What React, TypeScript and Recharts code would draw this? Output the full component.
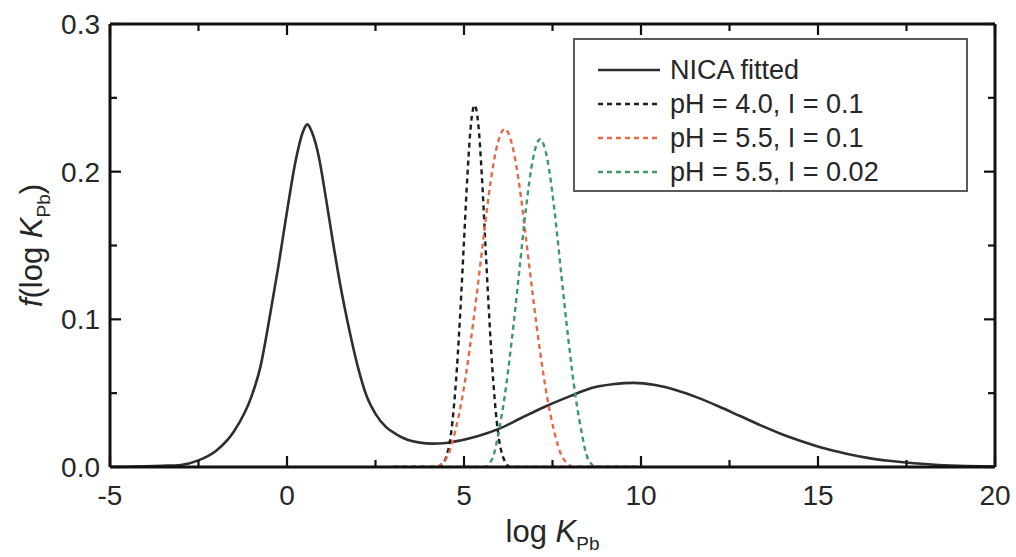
import React from 'react'
import { Label, Legend, Line, LineChart, XAxis, YAxis } from 'recharts'

// NICA fitted affinity distribution
const nicaX = [
  -5, -4.5, -4, -3.5, -3, -2.5, -2, -1.5, -1, -0.75, -0.5, -0.25, 0, 0.25, 0.45, 0.575, 0.7, 0.9, 1.1, 1.3,
  1.5, 1.75, 2, 2.25, 2.5, 2.8, 3.1, 3.4, 3.75, 4.1, 4.5, 4.9, 5.4, 6, 6.6, 7.3, 8, 8.6, 9.2, 9.8, 10.4, 11,
  11.6, 12.2, 12.8, 13.4, 14, 14.6, 15.2, 15.8, 16.4, 17, 17.7, 18.4, 19.2, 20,
]
const nicaY = [
  0, 0.0002, 0.0004, 0.0008, 0.0014, 0.0045, 0.011, 0.024, 0.048, 0.068, 0.1, 0.135, 0.173, 0.208, 0.227,
  0.232, 0.227, 0.21, 0.182, 0.152, 0.124, 0.094, 0.068, 0.048, 0.036, 0.027, 0.022, 0.0185, 0.0165, 0.0158,
  0.0163, 0.018, 0.021, 0.026, 0.033, 0.041, 0.048, 0.0535, 0.056, 0.057, 0.0555, 0.052, 0.047, 0.041, 0.0345,
  0.028, 0.022, 0.017, 0.0125, 0.009, 0.0062, 0.0042, 0.0025, 0.0014, 0.0007, 0.0003,
]

// pH 4.0, I 0.1
const ph40X = [3, 4.3, 4.4, 4.5, 4.6, 4.7, 4.8, 4.9, 5, 5.1, 5.2, 5.3, 5.4, 5.5, 5.6, 5.7, 5.8, 5.9, 6, 6.1, 6.2, 6.3, 10]
const ph40Y = [0, 0, 0.002, 0.007, 0.017, 0.037, 0.067, 0.107, 0.153, 0.199, 0.233, 0.245, 0.233, 0.199, 0.153, 0.107, 0.067, 0.037, 0.017, 0.007, 0.002, 0, 0]

// pH 5.5, I 0.1
const ph55X = [3, 4.25, 4.35, 4.55, 4.75, 4.95, 5.15, 5.35, 5.55, 5.75, 5.95, 6.15, 6.35, 6.55, 6.75, 6.95, 7.15, 7.35, 7.55, 7.75, 7.95, 8.05, 10]
const ph55Y = [0, 0, 0.002, 0.008, 0.024, 0.047, 0.078, 0.115, 0.155, 0.193, 0.219, 0.229, 0.219, 0.193, 0.155, 0.115, 0.078, 0.047, 0.024, 0.008, 0.002, 0, 0]

// pH 5.5, I 0.02
const ph55lowX = [3, 5.6, 5.7, 5.85, 5.95, 6.15, 6.35, 6.55, 6.75, 6.95, 7.15, 7.35, 7.55, 7.75, 7.95, 8.15, 8.35, 8.45, 8.6, 8.7, 10]
const ph55lowY = [0, 0, 0.002, 0.009, 0.02, 0.048, 0.086, 0.13, 0.175, 0.209, 0.222, 0.209, 0.175, 0.13, 0.086, 0.048, 0.02, 0.009, 0.002, 0, 0]

const xTicks = [-5, -2.5, 0, 2.5, 5, 7.5, 10, 12.5, 15, 17.5, 20]
const yTicks = [0, 0.05, 0.1, 0.15, 0.2, 0.25, 0.3]

const FONT = '"Liberation Sans", Arial, Helvetica, sans-serif'
const INK = '#111'
const TEXT = '#262626'

const toPoints = (xs: number[], ys: number[]) => xs.map((x, i) => ({ x, y: ys[i] }))

const SERIES = [
  { name: 'NICA fitted', data: toPoints(nicaX, nicaY), color: '#2e2e2e', dash: undefined, width: 2.6 },
  { name: 'pH = 4.0, I = 0.1', data: toPoints(ph40X, ph40Y), color: '#1c1c1c', dash: '5 4', width: 2.4 },
  { name: 'pH = 5.5, I = 0.1', data: toPoints(ph55X, ph55Y), color: '#e3694d', dash: '5 4', width: 2.4 },
  { name: 'pH = 5.5, I = 0.02', data: toPoints(ph55lowX, ph55lowY), color: '#3e9868', dash: '5 4', width: 2.4 },
]

const isMajorX = (v: number) => Math.abs(v % 5) < 1e-9
const isMajorY = (v: number) => Math.abs(Math.round(v * 100) % 10) < 1e-9

function BottomTick(props: any) {
  const { x, y, payload } = props
  const major = isMajorX(payload.value)
  return (
    <g>
      <line x1={x} x2={x} y1={y} y2={y - (major ? 11 : 7)} stroke={INK} strokeWidth={2.2} />
      {major && (
        <text x={x} y={y + 38} textAnchor="middle" fontSize={28} fontFamily={FONT} fill={TEXT}>
          {payload.value}
        </text>
      )}
    </g>
  )
}

function TopTick(props: any) {
  const { x, y, payload } = props
  const major = isMajorX(payload.value)
  return <line x1={x} x2={x} y1={y} y2={y + (major ? 11 : 7)} stroke={INK} strokeWidth={2.2} />
}

function LeftTick(props: any) {
  const { x, y, payload } = props
  const major = isMajorY(payload.value)
  return (
    <g>
      <line x1={x} x2={x + (major ? 11 : 7)} y1={y} y2={y} stroke={INK} strokeWidth={2.2} />
      {major && (
        <text x={x - 10} y={y + 10} textAnchor="end" fontSize={28} fontFamily={FONT} fill={TEXT}>
          {payload.value.toFixed(1)}
        </text>
      )}
    </g>
  )
}

function RightTick(props: any) {
  const { x, y, payload } = props
  const major = isMajorY(payload.value)
  return <line x1={x} x2={x - (major ? 11 : 7)} y1={y} y2={y} stroke={INK} strokeWidth={2.2} />
}

function XTitle(props: any) {
  const vb = props.viewBox
  return (
    <text x={vb.x + vb.width / 2} y={vb.y + 75} textAnchor="middle" fontSize={31} fontFamily={FONT} fill={TEXT}>
      <tspan>log </tspan>
      <tspan fontStyle="italic">K</tspan>
      <tspan fontSize={19} dy={8}>Pb</tspan>
    </text>
  )
}

function YTitle(props: any) {
  const vb = props.viewBox
  const cx = 42
  const cy = vb.y + vb.height / 2
  return (
    <text x={cx} y={cy} transform={`rotate(-90 ${cx} ${cy})`} textAnchor="middle" fontSize={31} fontFamily={FONT} fill={TEXT}>
      <tspan fontStyle="italic">f</tspan>
      <tspan>(log </tspan>
      <tspan fontStyle="italic">K</tspan>
      <tspan fontSize={19} dy={8}>Pb</tspan>
      <tspan dy={-8}>)</tspan>
    </text>
  )
}

function LegendBox() {
  return (
    <div
      style={{
        width: 395,
        height: 154,
        boxSizing: 'border-box',
        border: '2px solid #5a5a5a',
        background: '#fff',
        paddingTop: 13,
        fontFamily: FONT,
        fontSize: 27,
        color: TEXT,
      }}
    >
      {SERIES.map((s) => (
        <div key={s.name} style={{ display: 'flex', alignItems: 'center', height: 34 }}>
          <svg width={95} height={34} style={{ flex: 'none' }}>
            <line x1={23} x2={85} y1={17} y2={17} stroke={s.color} strokeWidth={s.width} strokeDasharray={s.dash} />
          </svg>
          <span style={{ whiteSpace: 'nowrap', lineHeight: '34px' }}>{s.name}</span>
        </div>
      ))}
    </div>
  )
}

export default function App() {
  return (
    <div style={{ position: 'absolute', left: 0, top: 0, background: '#fff' }}>
      <LineChart width={1016} height={557} margin={{ top: 23, right: 20, bottom: 30, left: 40 }}>
        <XAxis
          dataKey="x"
          type="number"
          domain={[-5, 20]}
          allowDataOverflow
          ticks={xTicks}
          interval={0}
          height={60}
          tickSize={0}
          tickMargin={0}
          tickLine={false}
          tick={<BottomTick />}
          axisLine={{ stroke: INK, strokeWidth: 3 }}
        >
          <Label content={<XTitle />} />
        </XAxis>
        <XAxis
          xAxisId="top"
          orientation="top"
          dataKey="x"
          type="number"
          domain={[-5, 20]}
          allowDataOverflow
          ticks={xTicks}
          interval={0}
          height={1}
          tickSize={0}
          tickMargin={0}
          tickLine={false}
          tick={<TopTick />}
          axisLine={{ stroke: INK, strokeWidth: 3 }}
        />
        <YAxis
          type="number"
          domain={[0, 0.3]}
          allowDataOverflow
          ticks={yTicks}
          interval={0}
          width={70}
          tickSize={0}
          tickMargin={0}
          tickLine={false}
          tick={<LeftTick />}
          axisLine={{ stroke: INK, strokeWidth: 3 }}
        >
          <Label content={<YTitle />} />
        </YAxis>
        <YAxis
          yAxisId="right"
          orientation="right"
          type="number"
          domain={[0, 0.3]}
          allowDataOverflow
          ticks={yTicks}
          interval={0}
          width={1}
          tickSize={0}
          tickMargin={0}
          tickLine={false}
          tick={<RightTick />}
          axisLine={{ stroke: INK, strokeWidth: 3 }}
        />
        <Legend
          layout="horizontal"
          verticalAlign="middle"
          align="center"
          content={<LegendBox />}
          wrapperStyle={{ left: 573, top: 38, width: 395, height: 154 }}
        />
        {SERIES.map((s) => (
          <Line
            key={s.name}
            name={s.name}
            data={s.data}
            dataKey="y"
            type="monotone"
            stroke={s.color}
            strokeWidth={s.width}
            strokeDasharray={s.dash}
            dot={false}
            activeDot={false}
            isAnimationActive={false}
          />
        ))}
        {/* invisible series so the mirrored top/right axes get a scale */}
        <Line
          data={SERIES[0].data}
          dataKey="y"
          xAxisId="top"
          yAxisId="right"
          stroke="none"
          dot={false}
          activeDot={false}
          legendType="none"
          isAnimationActive={false}
        />
      </LineChart>
    </div>
  )
}
